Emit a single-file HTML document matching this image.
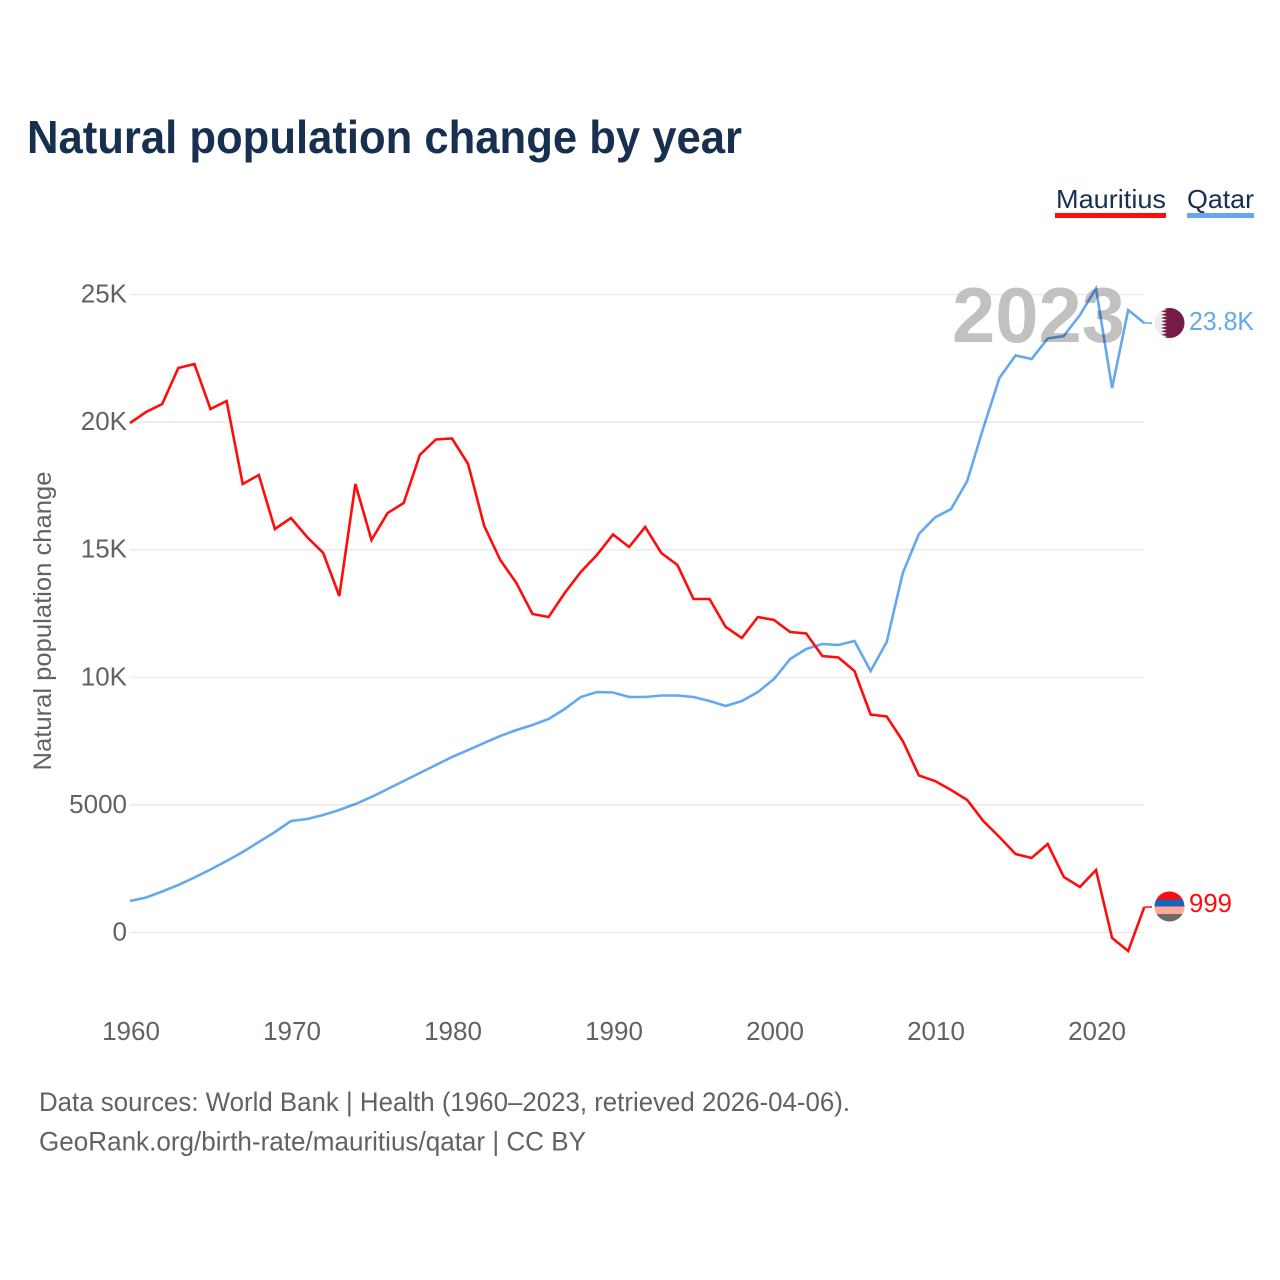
<!DOCTYPE html>
<html lang="en">
<head>
<meta charset="utf-8">
<title>Natural population change by year</title>
<style>
  html, body { margin: 0; padding: 0; background: #fff; }
  svg { display: block; font-family: "Liberation Sans", sans-serif; }
</style>
</head>
<body>
<svg id="chart" width="1280" height="1280" viewBox="0 0 1280 1280" xmlns="http://www.w3.org/2000/svg">
  <defs>
    <clipPath id="qatar-clip"><circle cx="1169.5" cy="323" r="15"></circle></clipPath>
    <clipPath id="mauritius-clip"><circle cx="1169.5" cy="906.5" r="15"></circle></clipPath>
  </defs>
  <rect x="0" y="0" width="1280" height="1280" fill="#ffffff"></rect>

  <text x="27" y="153" font-size="46" font-weight="700" fill="#18304f" textLength="715" lengthAdjust="spacingAndGlyphs">Natural population change by year</text>

  <g>
    <g>
      <text x="1056" y="208" font-size="26" fill="#18304f" textLength="110" lengthAdjust="spacingAndGlyphs">Mauritius</text>
      <rect x="1055" y="213" width="111" height="5" fill="#ff0d0d"></rect>
    </g>
    <g>
      <text x="1187" y="208" font-size="26" fill="#18304f" textLength="67" lengthAdjust="spacingAndGlyphs">Qatar</text>
      <rect x="1187" y="213" width="67" height="5" fill="#64a8ee"></rect>
    </g>
  </g>

  <g id="grid"></g>
  <g id="y-ticks"></g>
  <g id="x-ticks"></g>

  <text transform="translate(51,621) rotate(-90)" text-anchor="middle" font-size="25" fill="#5f6368" textLength="299" lengthAdjust="spacingAndGlyphs">Natural population change</text>

  <text x="952" y="342" font-size="78" font-weight="700" fill="#c1c1c1" textLength="173" lengthAdjust="spacingAndGlyphs">2023</text>

  <g id="series" style="mix-blend-mode:multiply"></g>

  <g clip-path="url(#qatar-clip)">
    <rect x="1154" y="308" width="31" height="30" fill="#eeeeee"></rect>
    <polygon fill="#741b47" points="1185,308 1161,308 1167,309.7 1161,311.3 1167,313 1161,314.7 1167,316.3 1161,318 1167,319.7 1161,321.3 1167,323 1161,324.7 1167,326.3 1161,328 1167,329.7 1161,331.3 1167,333 1161,334.7 1167,336.3 1161,338 1185,338"></polygon>
  </g>
  <g clip-path="url(#mauritius-clip)">
    <rect x="1154" y="891" width="31" height="8.5" fill="#ff0d0d"></rect>
    <rect x="1154" y="899.3" width="31" height="7.3" fill="#1f62b5"></rect>
    <rect x="1154" y="906.5" width="31" height="7.5" fill="#ffaa96"></rect>
    <rect x="1154" y="914" width="31" height="8" fill="#6b6b6b"></rect>
  </g>

  <text id="label-qatar" x="1189" y="330" font-size="26" fill="#64a8ee" textLength="65" lengthAdjust="spacingAndGlyphs">23.8K</text>
  <text id="label-mauritius" x="1189" y="912" font-size="26" fill="#ff0d0d" textLength="43" lengthAdjust="spacingAndGlyphs">999</text>

  <g>
    <text x="39" y="1111" font-size="26.5" fill="#5f6368" textLength="811" lengthAdjust="spacingAndGlyphs">Data sources: World Bank | Health (1960–2023, retrieved 2026-04-06).</text>
    <text x="39" y="1150.5" font-size="26.5" fill="#5f6368" textLength="547" lengthAdjust="spacingAndGlyphs">GeoRank.org/birth-rate/mauritius/qatar | CC BY</text>
  </g>
</svg>
<script>
const startYear = 1960;
const mauritiusValues = [19965, 20396, 20709, 22120, 22277, 20513, 20827, 17574, 17927, 15811,
  16242, 15498, 14871, 13186, 17574, 15380, 16438, 16830, 18711, 19318,
  19357, 18358, 15929, 14596, 13695, 12480, 12363, 13303, 14126, 14792,
  15596, 15106, 15889, 14871, 14400, 13068, 13068, 11971, 11540, 12363,
  12245, 11775, 11716, 10835, 10776, 10247, 8542, 8464, 7504, 6152,
  5936, 5584, 5192, 4369, 3742, 3076, 2919, 3468, 2175, 1783,
  2449, -216, -725, 999];
const qatarValues = [1234, 1371, 1607, 1861, 2155, 2469, 2802, 3154, 3546, 3938,
  4369, 4447, 4604, 4800, 5035, 5310, 5623, 5936, 6250, 6564,
  6877, 7151, 7426, 7700, 7935, 8131, 8366, 8758, 9228, 9424,
  9404, 9228, 9228, 9287, 9287, 9228, 9071, 8875, 9071, 9424,
  9933, 10717, 11109, 11305, 11266, 11422, 10247, 11383, 14087, 15615,
  16262, 16595, 17692, 19769, 21728, 22610, 22472, 23276, 23374, 24197,
  25235, 21336, 24393, 23880];
const yTickValues = [0, 5000, 10000, 15000, 20000, 25000];
const yTickLabels = ["0", "5000", "10K", "15K", "20K", "25K"];
const xTickValues = [1960, 1970, 1980, 1990, 2000, 2010, 2020];

const svgNS = "http://www.w3.org/2000/svg";
function xScale(year) { return 130 + (year - 1960) * 16.1; }
function yScale(value) { return 932.5 - value * 0.02552; }
function make(tag, attrs) {
  const el = document.createElementNS(svgNS, tag);
  for (const k in attrs) el.setAttribute(k, attrs[k]);
  return el;
}

const grid = document.getElementById("grid");
const yTicks = document.getElementById("y-ticks");
const xTicks = document.getElementById("x-ticks");
const seriesGroup = document.getElementById("series");
const lastYear = startYear + mauritiusValues.length - 1;

yTickValues.forEach(function (v, i) {
  const thin = v === 0 || v === 10000 || v === 25000;
  const line = make("line", {
    x1: xScale(startYear), x2: xScale(lastYear), y1: yScale(v), y2: yScale(v),
    stroke: thin ? "#e9e9e9" : "#eeeeee", "stroke-width": thin ? 1.2 : 2
  });
  
  
  grid.appendChild(line);

  const t = make("text", {
    x: 127, y: yScale(v) + 8, "text-anchor": "end", "font-size": 26, fill: "#5f6368"
  });
  
  
  t.textContent = yTickLabels[i];
  yTicks.appendChild(t);
});

xTickValues.forEach(function (year) {
  const t = make("text", {
    x: xScale(year) + 1, y: 1040, "text-anchor": "middle", "font-size": 26, fill: "#5f6368"
  });
  
  
  t.textContent = String(year);
  xTicks.appendChild(t);
});

function pathFor(values) {
  return values.map(function (v, i) {
    return (i ? "L" : "M") + xScale(startYear + i).toFixed(2) + " " + yScale(v).toFixed(2);
  }).join(" ");
}

const qatarLine = make("path", {
  d: pathFor(qatarValues), fill: "none", stroke: "#64a8ee", "stroke-width": 2.6, "stroke-linejoin": "miter"
});


seriesGroup.appendChild(qatarLine);

const mauritiusLine = make("path", {
  d: pathFor(mauritiusValues), fill: "none", stroke: "#ff0d0d", "stroke-width": 2.6, "stroke-linejoin": "miter"
});


seriesGroup.appendChild(mauritiusLine);

const qatarLast = qatarValues[qatarValues.length - 1];
const mauritiusLast = mauritiusValues[mauritiusValues.length - 1];

const qatarStub = make("line", {
  x1: xScale(lastYear), x2: 1152, y1: yScale(qatarLast), y2: yScale(qatarLast),
  stroke: "#64a8ee", "stroke-width": 1.5
});


seriesGroup.appendChild(qatarStub);

const mauritiusStub = make("line", {
  x1: xScale(lastYear), x2: 1152, y1: yScale(mauritiusLast), y2: yScale(mauritiusLast),
  stroke: "#ff0d0d", "stroke-width": 1.5
});


seriesGroup.appendChild(mauritiusStub);
</script>
</body>
</html>
